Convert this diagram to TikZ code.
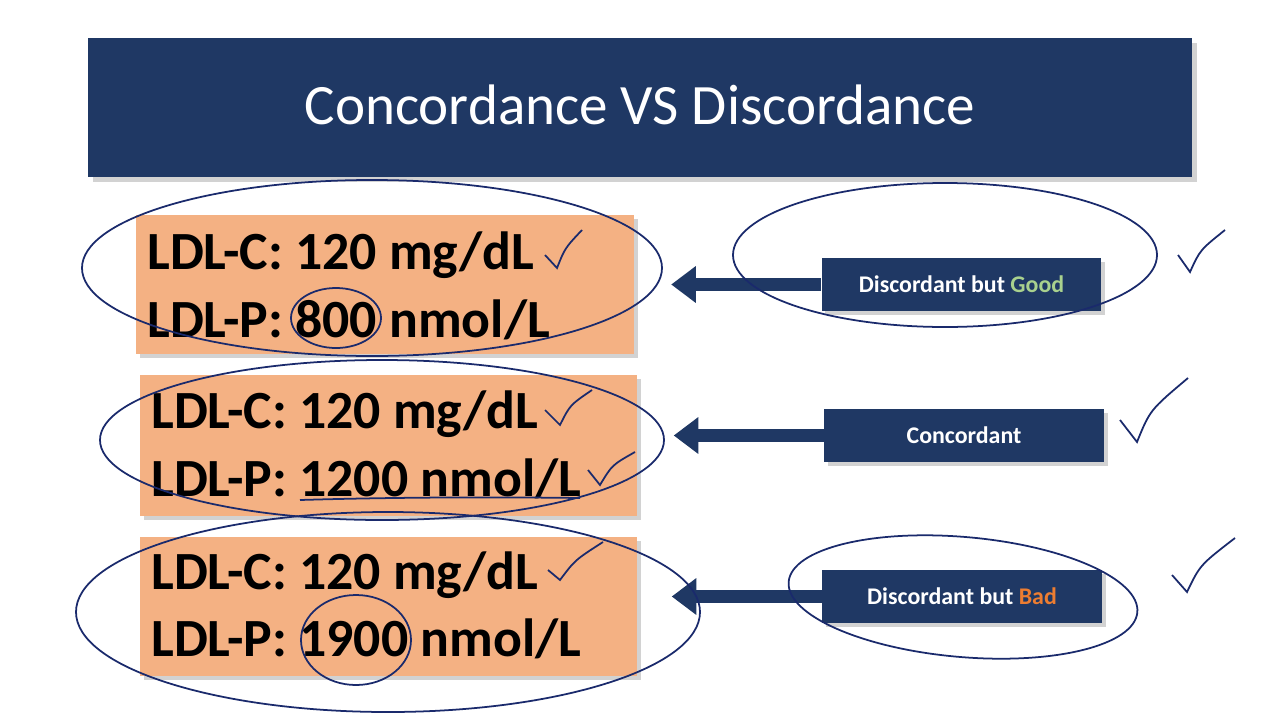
\documentclass[tikz,border=0pt]{standalone}
\usepackage{fontspec}
\setmainfont{Carlito}
\usetikzlibrary{shadows,arrows.meta}
\definecolor{navy}{HTML}{1F3864}
\definecolor{peach}{HTML}{F4B183}
\definecolor{goodgreen}{HTML}{A9D18E}
\definecolor{badorange}{HTML}{ED7D31}
\definecolor{ink}{HTML}{1A2A6C}
\begin{document}
\begin{tikzpicture}[x=0.02cm,y=-0.02cm]
	\tikzstyle{val}=[rectangle,fill=peach,anchor=north west,inner sep=0,drop shadow={opacity=0.35,shadow xshift=2pt,shadow yshift=-2pt}]
	\tikzstyle{line}=[anchor=west,font=\fontsize{30.6}{33}\selectfont\bfseries,inner sep=0]
	\tikzstyle{tag}=[rectangle,fill=navy,text=white,font=\fontsize{13.6}{15}\selectfont\bfseries,minimum width=5.6cm,minimum height=1.06cm,drop shadow={opacity=0.35,shadow xshift=2pt,shadow yshift=-2pt}]
	\tikzstyle{point}=[-{Triangle[length=14pt,width=20pt]},navy,line width=7pt]
	\tikzstyle{pen}=[ink,line width=1pt]
	
	\useasboundingbox (0,0) rectangle (1280,720);
	\fill[white] (0,0) rectangle (1280,720);
	
	% title banner
	\node [rectangle,fill=navy,minimum width=22.08cm,minimum height=2.78cm,drop shadow={opacity=0.35,shadow xshift=3pt,shadow yshift=-3pt}] (banner) at (640,107.5) {};
	\node [text=white,font=\fontsize{32.5}{36}\selectfont] (title) at (640,105) {Concordance VS Discordance};
	
	% values
	\node [val,minimum width=9.96cm,minimum height=2.78cm] (v1) at (136,215) {};
	\node [val,minimum width=9.94cm,minimum height=2.82cm] (v2) at (140,375) {};
	\node [val,minimum width=9.94cm,minimum height=2.78cm] (v3) at (140,537) {};
	\node [line] (c1) at (147,255) {LDL-C: 120 mg/dL};
	\node [line] (p1) at (147,320) {LDL-P: 800 nmol/L};
	\node [line] (c2) at (151,414) {LDL-C: 120 mg/dL};
	\node [line] (p2) at (151,479) {LDL-P: 1200 nmol/L};
	\node [line] (c3) at (151,575) {LDL-C: 120 mg/dL};
	\node [line] (p3) at (151,639) {LDL-P: 1900 nmol/L};
	
	% labels
	\node [tag] (t1) at (961.5,284.5) {Discordant but \textcolor{goodgreen}{Good}};
	\node [tag] (t2) at (964,435.5) {Concordant};
	\node [tag] (t3) at (962,596.5) {Discordant but \textcolor{badorange}{Bad}};
	\draw[point] (t1.west) -- ++(-150,0) coordinate (a1);
	\draw[point] (t2.west) -- ++(-150,0) coordinate (a2);
	\draw[point] (t3.west) -- ++(-150,0) coordinate (a3);
	
	% hand marks
	\draw[pen] (372,268) ellipse [x radius=290,y radius=88];
	\draw[pen] (945,255) ellipse [x radius=212,y radius=72];
	\draw[pen] (382,440) ellipse [x radius=282,y radius=80];
	\draw[pen] (388,612) ellipse [x radius=312,y radius=100];
	\draw[pen,rotate around={-5:(963,597)}] (963,597) ellipse [x radius=175,y radius=60];
	\draw[pen] (336,318) ellipse [x radius=45,y radius=30];
	\draw[pen] (356,640) ellipse [x radius=55,y radius=45];
	\draw[pen] (300,500) .. controls (400,497) and (500,497) .. (580,498);
	\draw[pen] (545,255) -- (557,268) .. controls (565,248) .. (582,230);
	\draw[pen] (545,410) -- (560,425) .. controls (570,405) .. (592,390);
	\draw[pen] (588,470) -- (600,485) .. controls (612,465) .. (635,452);
	\draw[pen] (548,570) -- (560,580) .. controls (575,560) .. (603,542);
	\draw[pen] (1178,255) -- (1190,272) .. controls (1200,250) .. (1225,230);
	\draw[pen] (1120,420) -- (1137,442) .. controls (1150,410) .. (1188,378);
	\draw[pen] (1172,575) -- (1187,592) .. controls (1200,565) .. (1235,538);
\end{tikzpicture}
\end{document}
